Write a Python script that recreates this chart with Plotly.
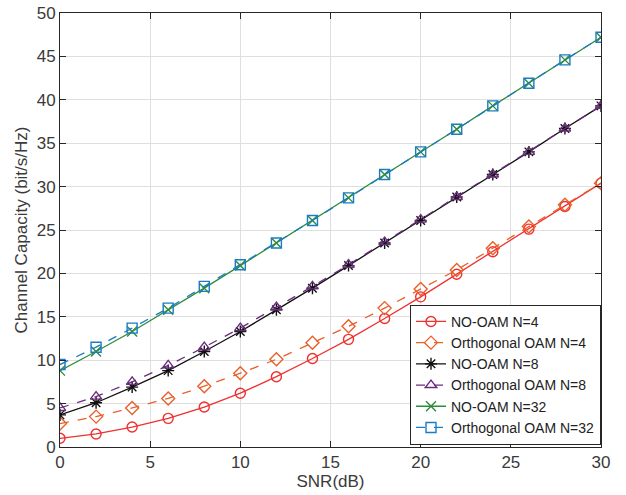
import plotly.graph_objects as go

snr = [0, 2, 4, 6, 8, 10, 12, 14, 16, 18, 20, 22, 24, 26, 28, 30]

noam_n4 = [1.0, 1.5, 2.3, 3.3, 4.6, 6.2, 8.1, 10.2, 12.4, 14.8, 17.3, 19.9, 22.5, 25.1, 27.7, 30.4]
orth_n4 = [2.7, 3.5, 4.5, 5.6, 7.0, 8.5, 10.1, 12.0, 13.9, 16.0, 18.2, 20.4, 22.9, 25.4, 27.9, 30.4]
noam_n8 = [3.7, 5.1, 6.9, 8.8, 11.0, 13.3, 15.8, 18.3, 20.9, 23.5, 26.1, 28.8, 31.4, 34.0, 36.7, 39.3]
orth_n8 = [4.5, 5.8, 7.5, 9.4, 11.5, 13.7, 16.1, 18.5, 21.0, 23.6, 26.2, 28.8, 31.4, 34.0, 36.7, 39.3]
noam_n32 = [8.8, 11.0, 13.3, 15.8, 18.3, 20.9, 23.5, 26.1, 28.7, 31.4, 34.0, 36.6, 39.3, 41.9, 44.6, 47.2]
orth_n32 = [9.5, 11.5, 13.7, 16.0, 18.5, 21.0, 23.5, 26.1, 28.7, 31.4, 34.0, 36.6, 39.3, 41.9, 44.6, 47.2]

series = [
    ("NO-OAM N=4", noam_n4, "#F0302E", "solid", "circle-open"),
    ("Orthogonal OAM N=4", orth_n4, "#E8602A", "dash", "diamond-open"),
    ("NO-OAM N=8", noam_n8, "#111111", "solid", "asterisk-open"),
    ("Orthogonal OAM N=8", orth_n8, "#6B2C7E", "dash", "triangle-up-open"),
    ("NO-OAM N=32", noam_n32, "#2E8B3A", "solid", "x-thin-open"),
    ("Orthogonal OAM N=32", orth_n32, "#1A7CC4", "dash", "square-open"),
]

fig = go.Figure()
for name, ys, color, dash, sym in series:
    fig.add_trace(go.Scatter(
        x=snr, y=ys, name=name, mode="lines+markers",
        line=dict(color=color, width=1.3, dash=dash),
        marker=dict(symbol=sym, size=10, color=color, line=dict(color=color, width=1.4)),
    ))

axis_common = dict(
    showline=True, linecolor="#262626", linewidth=1, mirror="ticks",
    ticks="inside", ticklen=6, tickcolor="#262626",
    showgrid=True, gridcolor="#DFDFDF", gridwidth=1,
    zeroline=False, automargin=False,
    tickfont=dict(family="Liberation Sans, Arial", size=17, color="#3a3a3a"),
)

fig.update_layout(
    width=626, height=495,
    margin=dict(l=60, r=25, t=13, b=48),
    paper_bgcolor="white", plot_bgcolor="white",
    font=dict(family="Liberation Sans, Arial", color="#3a3a3a"),
    xaxis=dict(range=[0, 30], dtick=5,
               title=dict(text="SNR(dB)", font=dict(size=17), standoff=2),
               **axis_common),
    yaxis=dict(range=[0, 50], dtick=5,
               title=dict(text="Channel Capacity (bit/s/Hz)", font=dict(size=17), standoff=4),
               **axis_common),
    legend=dict(
        x=1.0, y=0.005, xanchor="right", yanchor="bottom",
        bgcolor="white", bordercolor="#262626", borderwidth=1,
        font=dict(family="Liberation Sans, Arial", size=14, color="#222222"),
        tracegroupgap=0, itemwidth=30,
    ),
)

fig.write_html("out.html")
